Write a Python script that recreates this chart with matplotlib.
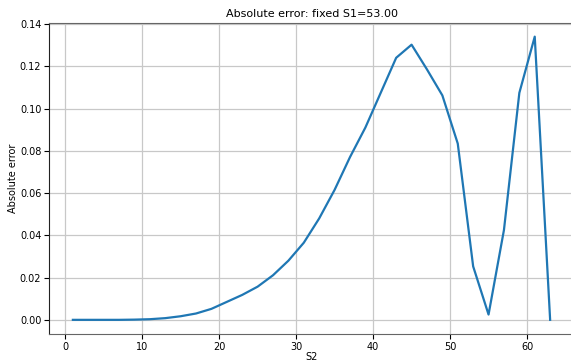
import numpy as np
import matplotlib
matplotlib.use("Agg")
import matplotlib.pyplot as plt

# -----------------------
# Data
# -----------------------
s2 = list(range(1, 64, 2))
abs_err = [0.0, 0.0, 0.0, 0.0, 0.0001, 0.0003, 0.0008, 0.0017,
           0.0030, 0.0052, 0.0085, 0.0118, 0.0157, 0.0211, 0.0280, 0.0365,
           0.0480, 0.0615, 0.0770, 0.0910, 0.1075, 0.1240, 0.1302, 0.1185,
           0.1062, 0.0834, 0.0253, 0.0025, 0.0425, 0.1074, 0.1340, 0.0]

title = "Absolute error: fixed S1=53.00"
xticks = [0, 10, 20, 30, 40, 50, 60]

# -----------------------
# Plot
# -----------------------
W, H = 571, 363
fig = plt.figure(figsize=(W / 100, H / 100), dpi=100)
ax = fig.add_axes([49 / W, 1 - 334 / H, (574 - 49) / W, (334 - 22.5) / H])

ax.plot(s2, abs_err, color="#1f77b4", lw=1.6)
ax.set_xticks(xticks)
ax.grid(True, color="#c8c8c8", lw=0.9)
ax.set_axisbelow(True)

for side in ["top", "bottom"]:
    ax.spines[side].set_color("#666666")
ax.spines["left"].set_color("#222222")
ax.spines["right"].set_visible(False)

ax.tick_params(labelsize=7, length=3.5, width=0.8, pad=2)
ax.set_xlabel("S2", fontsize=7, labelpad=0)
ax.set_ylabel("Absolute error", fontsize=7, labelpad=1)
ax.set_title(title, fontsize=8, pad=4)

fig.savefig("out.png", dpi=100)
